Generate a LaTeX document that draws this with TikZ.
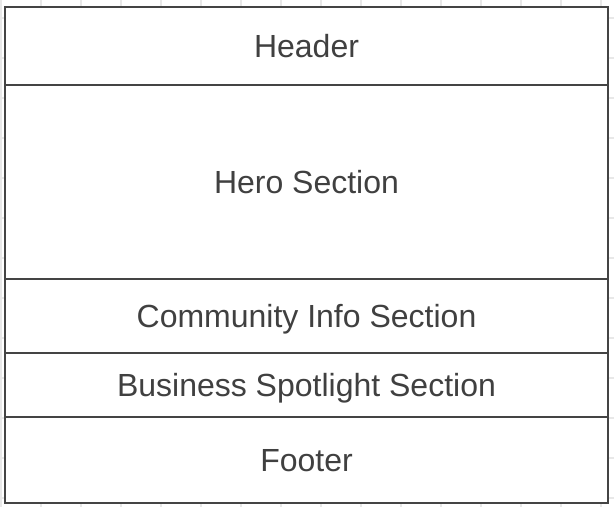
\documentclass[tikz,border=0pt]{standalone}
\usepackage{fontspec}
\setmainfont{Liberation Sans}
\definecolor{gridc}{HTML}{E8E8E8}
\definecolor{linec}{HTML}{444444}
\definecolor{textc}{HTML}{404040}
\begin{document}
\begin{tikzpicture}[x=1pt,y=-1pt,
  section/.style={draw=linec, line width=2pt, fill=white, rectangle, inner sep=0pt,
    minimum width=603pt, text=textc, text height=23pt, text depth=0pt,
    font=\fontsize{32}{38}\selectfont},
  gridline/.style={draw=gridc, line width=1.5pt}]
\useasboundingbox (0,0) rectangle (614,507);
\fill[white] (0,0) rectangle (614,507);
\foreach \x in {1,41,...,601} \draw[gridline] (\x,0) -- (\x,507);
\foreach \y in {18,58,...,498} \draw[gridline] (0,\y) -- (614,\y);
\node[section, minimum height=78pt] (header) at (306.5,46) {Header};
\node[section, minimum height=194pt] (hero) at (306.5,182) {Hero Section};
\node[section, minimum height=74pt] (community) at (306.5,316) {Community Info Section};
\node[section, minimum height=64pt] (business) at (306.5,385) {Business Spotlight Section};
\node[section, minimum height=86pt] (footer) at (306.5,460) {Footer};
\end{tikzpicture}
\end{document}
